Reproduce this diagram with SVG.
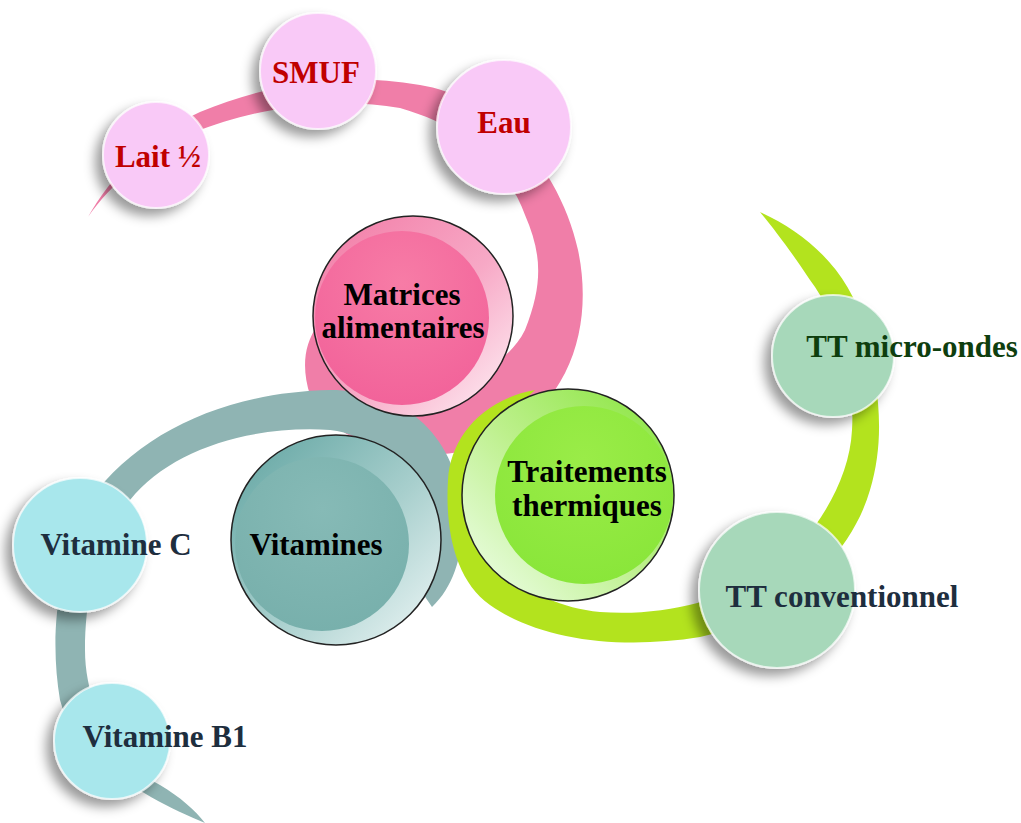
<svg xmlns="http://www.w3.org/2000/svg" width="1021" height="823" viewBox="0 0 1021 823">
<defs>
<style>
.t{font-family:"Liberation Serif","Times New Roman",serif;font-weight:bold;font-size:31px;text-anchor:middle}
.red{fill:#C00000}
.blk{fill:#000}
.navy{fill:#1E2E3E}
.dg{fill:#0E3E0E}
.sat{filter:url(#sh);stroke:#fff;stroke-width:2;stroke-opacity:.7}
.ring{stroke:#222;stroke-width:1.5}
</style>
<filter id="sh" x="-40%" y="-40%" width="180%" height="180%">
<feDropShadow dx="-7" dy="7" stdDeviation="6" flood-color="#000" flood-opacity="0.4"/>
</filter>
<linearGradient id="gP" x1="0" y1="0" x2="1" y2="1">
<stop offset="0" stop-color="#F27AA5"/><stop offset="0.55" stop-color="#F7A9C6"/><stop offset="1" stop-color="#FFF2F7"/>
</linearGradient>
<radialGradient id="gPi" cx="0.5" cy="0.3" r="0.7">
<stop offset="0" stop-color="#F77CA6"/><stop offset="1" stop-color="#F2639A"/>
</radialGradient>
<linearGradient id="gT" x1="0" y1="0" x2="1" y2="1">
<stop offset="0" stop-color="#5FA3A0"/><stop offset="0.55" stop-color="#A8CFCD"/><stop offset="1" stop-color="#F0F8F8"/>
</linearGradient>
<radialGradient id="gTi" cx="0.5" cy="0.3" r="0.7">
<stop offset="0" stop-color="#86BAB6"/><stop offset="1" stop-color="#78B0AC"/>
</radialGradient>
<linearGradient id="gG" x1="1" y1="0" x2="0" y2="1">
<stop offset="0" stop-color="#86E43A"/><stop offset="0.5" stop-color="#BDF08C"/><stop offset="1" stop-color="#F2FFF0"/>
</linearGradient>
<radialGradient id="gGi" cx="0.5" cy="0.3" r="0.7">
<stop offset="0" stop-color="#9AEC48"/><stop offset="1" stop-color="#8AE63A"/>
</radialGradient>
</defs>

<g id="connectors">
<path id="band-pink" fill="#F07EA8" d="M88,217 C110,178 150,134 200,112 C260,88 330,70 420,85 C500,98 560,170 578,250 C595,330 568,420 470,450 C400,466 330,440 310,395 C302,370 303,345 318,325 L380,330 C430,395 500,380 525,330 C545,280 540,250 525,215 C505,160 460,125 400,108 C330,95 250,110 195,132 C150,150 110,185 88,217 Z"/>
<path id="band-teal" fill="#8FB4B3" d="M205,823 C150,800 75,760 60,700 C50,640 55,570 90,500 C140,430 230,392 330,390 C400,390 455,430 462,510 C465,550 455,585 432,607 L400,560 C410,480 380,435 330,430 C250,425 170,450 130,500 C95,545 85,600 85,650 C85,700 110,760 160,785 C180,797 195,810 205,823 Z"/>
<path id="band-green" fill="#B3E31E" d="M760,212 C805,232 850,270 865,330 C880,390 885,440 870,490 C850,560 780,620 700,637 C620,650 540,640 490,605 C455,580 445,530 448,480 C450,440 480,400 535,390 C500,420 480,470 480,520 C480,560 530,605 600,612 C680,618 760,590 800,545 C830,510 850,470 852,430 C855,380 840,320 810,280 C790,250 775,230 760,212 Z"/>
</g>

<g id="node-lait">
<circle class="sat" cx="156" cy="155" r="53" fill="#F9C9F7"/>
<text class="t red" x="158" y="167">Lait ½</text>
</g>
<g id="node-smuf">
<circle class="sat" cx="318" cy="71" r="58" fill="#F9C9F7"/>
<text class="t red" x="316" y="83">SMUF</text>
</g>
<g id="node-eau">
<circle class="sat" cx="504" cy="127" r="67" fill="#F9C9F7"/>
<text class="t red" x="504" y="133">Eau</text>
</g>

<g id="node-matrices">
<circle class="ring" cx="413" cy="316" r="100" fill="url(#gP)"/>
<circle cx="402" cy="318" r="87" fill="url(#gPi)"/>
<text class="t blk" x="402" y="305">Matrices</text>
<text class="t blk" x="403" y="338">alimentaires</text>
</g>

<g id="node-vitamines">
<circle class="ring" cx="336" cy="540" r="105" fill="url(#gT)"/>
<circle cx="322" cy="544" r="87" fill="url(#gTi)"/>
<text class="t blk" x="316" y="555">Vitamines</text>
</g>

<g id="node-traitements">
<circle class="ring" cx="568" cy="495" r="106" fill="url(#gG)"/>
<circle cx="584" cy="495" r="89" fill="url(#gGi)"/>
<text class="t blk" x="587" y="482">Traitements</text>
<text class="t blk" x="587" y="516">thermiques</text>
</g>

<g id="node-vitc">
<circle class="sat" cx="80" cy="545" r="67" fill="#A8E7EC"/>
<text class="t navy" x="116" y="555">Vitamine C</text>
</g>
<g id="node-vitb1">
<circle class="sat" cx="112" cy="741" r="58" fill="#A8E7EC"/>
<text class="t navy" x="165" y="747">Vitamine B1</text>
</g>

<g id="node-micro">
<circle class="sat" cx="833" cy="356" r="61" fill="#A7D8BA"/>
<text class="t dg" x="912" y="357">TT micro-ondes</text>
</g>
<g id="node-conv">
<circle class="sat" cx="777" cy="590" r="78" fill="#A7D8BA"/>
<text class="t navy" x="842" y="607">TT conventionnel</text>
</g>
</svg>
